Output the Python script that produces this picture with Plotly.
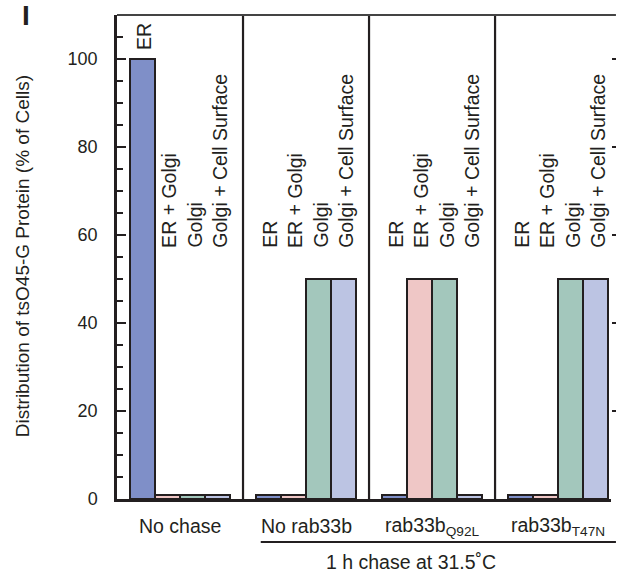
import plotly.graph_objects as go

groups = ["No chase", "No rab33b", "rab33b<sub>Q92L</sub>", "rab33b<sub>T47N</sub>"]
categories = ["ER", "ER + Golgi", "Golgi", "Golgi + Cell Surface"]
er = [100, 1, 1, 1]
er_golgi = [1, 1, 50, 1]
golgi = [1, 50, 50, 50]
golgi_surface = [1, 50, 1, 50]
series = [er, er_golgi, golgi, golgi_surface]
colors = ["#7f8fc8", "#efc7c6", "#a3c7bc", "#bcc4e3"]
y_ticks = [0, 20, 40, 60, 80, 100]
y_title = "Distribution of tsO45-G Protein (% of Cells)"
chase_label = "1 h chase at 31.5˚C"

FONT = "Liberation Sans, Arial, Helvetica, sans-serif"
INK = "#231f20"
GAP = 5  # slots per group (4 bars + spacing)

fig = go.Figure()
annotations = []
for b, (cat, vals, col) in enumerate(zip(categories, series, colors)):
    xs = [GAP * g + b for g in range(len(groups))]
    fig.add_trace(go.Bar(
        x=xs, y=vals, width=1, name=cat,
        marker=dict(color=col, line=dict(color=INK, width=2)),
        showlegend=False,
    ))
    for x, v in zip(xs, vals):
        base = max(v + 1.5, 56.6)
        annotations.append(dict(
            x=x + 0.08, y=base, xref="x", yref="y", text=cat, showarrow=False,
            textangle=-90, xanchor="center", yanchor="bottom",
            font=dict(family=FONT, size=19.5, color=INK),
        ))

# group labels below axis
for g, name in enumerate(groups):
    annotations.append(dict(
        x=GAP * g + 1.5, y=0, xref="x", yref="paper", yshift=-27,
        text=name, showarrow=False, xanchor="center", yanchor="middle",
        font=dict(family=FONT, size=19.5, color=INK),
    ))

annotations.append(dict(
    x=0.596, y=0, xref="paper", yref="paper", yshift=-63,
    text=chase_label, showarrow=False, xanchor="center", yanchor="middle",
    font=dict(family=FONT, size=19.5, color=INK),
))
annotations.append(dict(
    x=-0.192, y=0.5, xref="paper", yref="paper", yshift=1,
    text=y_title, showarrow=False, textangle=-90, xanchor="center", yanchor="middle",
    font=dict(family=FONT, size=19, color=INK),
))
annotations.append(dict(
    x=-0.185, y=1.0, xref="paper", yref="paper", yshift=17,
    text="<b>I</b>", showarrow=False, xanchor="center", yanchor="top",
    font=dict(family=FONT, size=28, color=INK),
))

shapes = []
for d in [GAP * g - 1 for g in range(1, len(groups))]:
    shapes.append(dict(type="line", xref="x", yref="y", x0=d, x1=d, y0=0, y1=110,
                       line=dict(color=INK, width=2.2)))
# top border
shapes.append(dict(type="line", xref="paper", yref="paper", x0=0, x1=1.01, y0=1, y1=1,
                   line=dict(color="#444", width=2)))
# chase bracket line
shapes.append(dict(type="line", xref="paper", yref="paper", x0=0.291, x1=1.01,
                   y0=-0.089, y1=-0.089, line=dict(color=INK, width=2)))

fig.update_layout(
    width=619, height=574,
    margin=dict(l=117, r=4, t=15, b=75),
    plot_bgcolor="white", paper_bgcolor="white",
    bargap=0, barmode="overlay",
    annotations=annotations, shapes=shapes,
    xaxis=dict(range=[-1, 18.6], showgrid=False, zeroline=False, showticklabels=False,
               ticks="", showline=True, linecolor=INK, linewidth=2.5),
    yaxis=dict(range=[0, 110], tickvals=y_ticks, showgrid=False, zeroline=False,
               showline=True, linecolor=INK, linewidth=2.5,
               ticks="inside", ticklen=9, tickwidth=2, tickcolor=INK,
               ticklabelstandoff=13,
               minor=dict(dtick=5, ticks="inside", ticklen=6, tickwidth=2, tickcolor=INK,
                          showgrid=False),
               tickfont=dict(family=FONT, size=18, color=INK)),
    yaxis2=dict(range=[0, 110], overlaying="y", side="right", tickvals=y_ticks[1:],
                showticklabels=False, showgrid=False, zeroline=False, showline=False,
                ticks="outside", ticklen=4, tickwidth=2, tickcolor=INK),
)
# dummy trace to activate the right axis
fig.add_trace(go.Scatter(x=[None], y=[None], yaxis="y2", showlegend=False))

fig.write_html(
    "out.html",
    config={"displayModeBar": False},
    post_script="document.body.style.margin='0';document.body.style.padding='0';"
                "document.documentElement.style.overflow='hidden';",
)
